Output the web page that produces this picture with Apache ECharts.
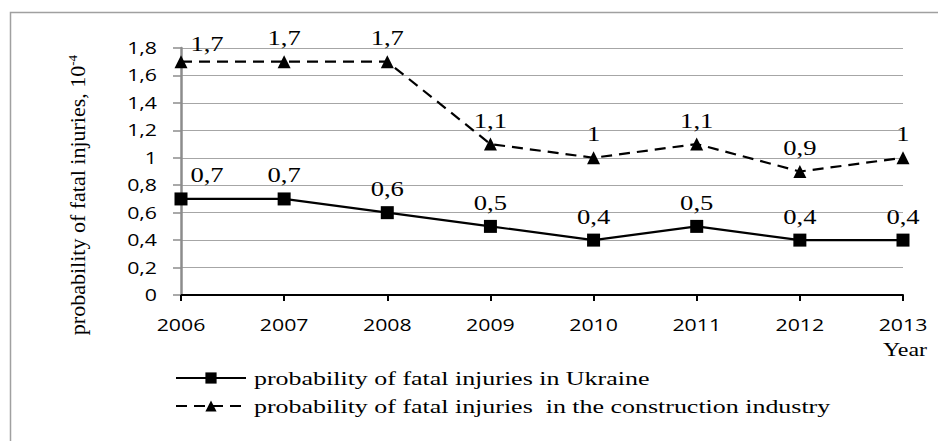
<!DOCTYPE html>
<html>
<head>
<meta charset="utf-8">
<script src="https://cdn.jsdelivr.net/npm/echarts@6/dist/echarts.min.js"></script>
<style>
  html, body { margin: 0; padding: 0; background: #fff; }
  #chart { width: 938px; height: 441px; }
</style>
</head>
<body>
<div id="chart"></div>
<script>
// Years on the horizontal axis
const years = ['2006', '2007', '2008', '2009', '2010', '2011', '2012', '2013'];
// Probability of fatal injuries, ×10^-4
const ukraine = [0.7, 0.7, 0.6, 0.5, 0.4, 0.5, 0.4, 0.4];
const construction = [1.7, 1.7, 1.7, 1.1, 1.0, 1.1, 0.9, 1.0];
const ukraineName = 'probability of fatal injuries in Ukraine';
const constructionName = 'probability of fatal injuries  in the construction industry';

const comma = v => String(v).replace('.', ',');
const serif = '"Liberation Serif", "Times New Roman", serif';
const sans = '"Open Sans", "Liberation Sans", sans-serif';
// horizontal captions are set in a wide, expanded cut
const TEXT_EXPAND = 1.33;

const chart = echarts.init(document.getElementById('chart'), null, { renderer: 'svg' });

const valueLabel = {
  show: true,
  position: 'top',
  distance: 7,
  fontFamily: serif,
  fontSize: 20,
  color: '#000',
  formatter: p => comma(p.value)
};

chart.setOption({
  backgroundColor: '#fff',
  animation: false,
  grid: { left: 181, right: 35, top: 48, bottom: 146, containLabel: false },
  graphic: [
    {
      type: 'rect',
      shape: { x: 10.5, y: 12.5, width: 940, height: 440 },
      style: { fill: 'none', stroke: '#a0a0a0', lineWidth: 1.5 },
      silent: true
    },
    {
      type: 'text',
      x: 77, y: 195,
      rotation: Math.PI / 2,
      style: {
        text: '{t|probability of fatal injuries, 10}{s|-4}',
        align: 'center',
        verticalAlign: 'middle',
        rich: {
          t: { fontFamily: serif, fontSize: 22, color: '#000' },
          s: { fontFamily: serif, fontSize: 13, color: '#000', verticalAlign: 'top' }
        }
      }
    },
    {
      type: 'text',
      x: 905, y: 350,
      style: { text: 'Year', fontFamily: serif, fontSize: 18, fill: '#000', align: 'center', verticalAlign: 'middle' }
    }
  ],
  legend: {
    orient: 'vertical',
    left: 170,
    top: 363,
    itemWidth: 70,
    itemHeight: 14,
    itemGap: 8,
    textStyle: { fontFamily: serif, fontSize: 19.5, color: '#000', padding: [0, 0, 0, 3] },
    data: [ukraineName, constructionName]
  },
  xAxis: {
    type: 'category',
    data: years,
    boundaryGap: false,
    axisLine: { lineStyle: { color: '#000', width: 2 } },
    axisTick: { show: true, length: 6, lineStyle: { color: '#000', width: 2 } },
    axisLabel: { fontFamily: sans, fontSize: 16, color: '#000', margin: 22 },
    splitLine: { show: false }
  },
  yAxis: {
    type: 'value',
    min: 0,
    max: 1.8,
    interval: 0.2,
    axisLine: { show: true, lineStyle: { color: '#8c8c8c', width: 2.5 } },
    axisTick: { show: true, length: 8, lineStyle: { color: '#8c8c8c', width: 1.5 } },
    axisLabel: { fontFamily: sans, fontSize: 16, color: '#000', margin: 24, formatter: v => comma(+v.toFixed(1)) },
    splitLine: { show: true, lineStyle: { color: '#a6a6a6', width: 1.2 } }
  },
  series: [
    {
      name: ukraineName,
      type: 'line',
      data: ukraine,
      symbol: 'rect',
      symbolSize: 13,
      itemStyle: { color: '#000' },
      lineStyle: { color: '#000', width: 2.2 },
      label: valueLabel,
      labelLayout: p => (p.dataIndex === 0 ? { dx: 26 } : {})
    },
    {
      name: constructionName,
      type: 'line',
      data: construction,
      symbol: 'triangle',
      symbolSize: 13,
      itemStyle: { color: '#000' },
      lineStyle: { color: '#000', width: 2.2, type: [11, 7] },
      label: valueLabel,
      labelLayout: p => (p.dataIndex === 0 ? { dx: 26, dy: 6 } : {})
    }
  ]
});

// Widen every horizontal caption's glyphs; rotated text keeps its natural width.
function expandText() {
  document.querySelectorAll('#chart svg text').forEach(el => {
    if (el.getAttribute('data-expanded')) return;
    const ctm = el.getCTM();
    if (ctm && Math.abs(ctm.b) > 1e-3) return;
    const len = el.getComputedTextLength();
    if (!len) return;
    el.setAttribute('textLength', (len * TEXT_EXPAND).toFixed(2));
    el.setAttribute('lengthAdjust', 'spacingAndGlyphs');
    el.setAttribute('data-expanded', '1');
  });
}
expandText();
chart.on('finished', expandText);
</script>
</body>
</html>
